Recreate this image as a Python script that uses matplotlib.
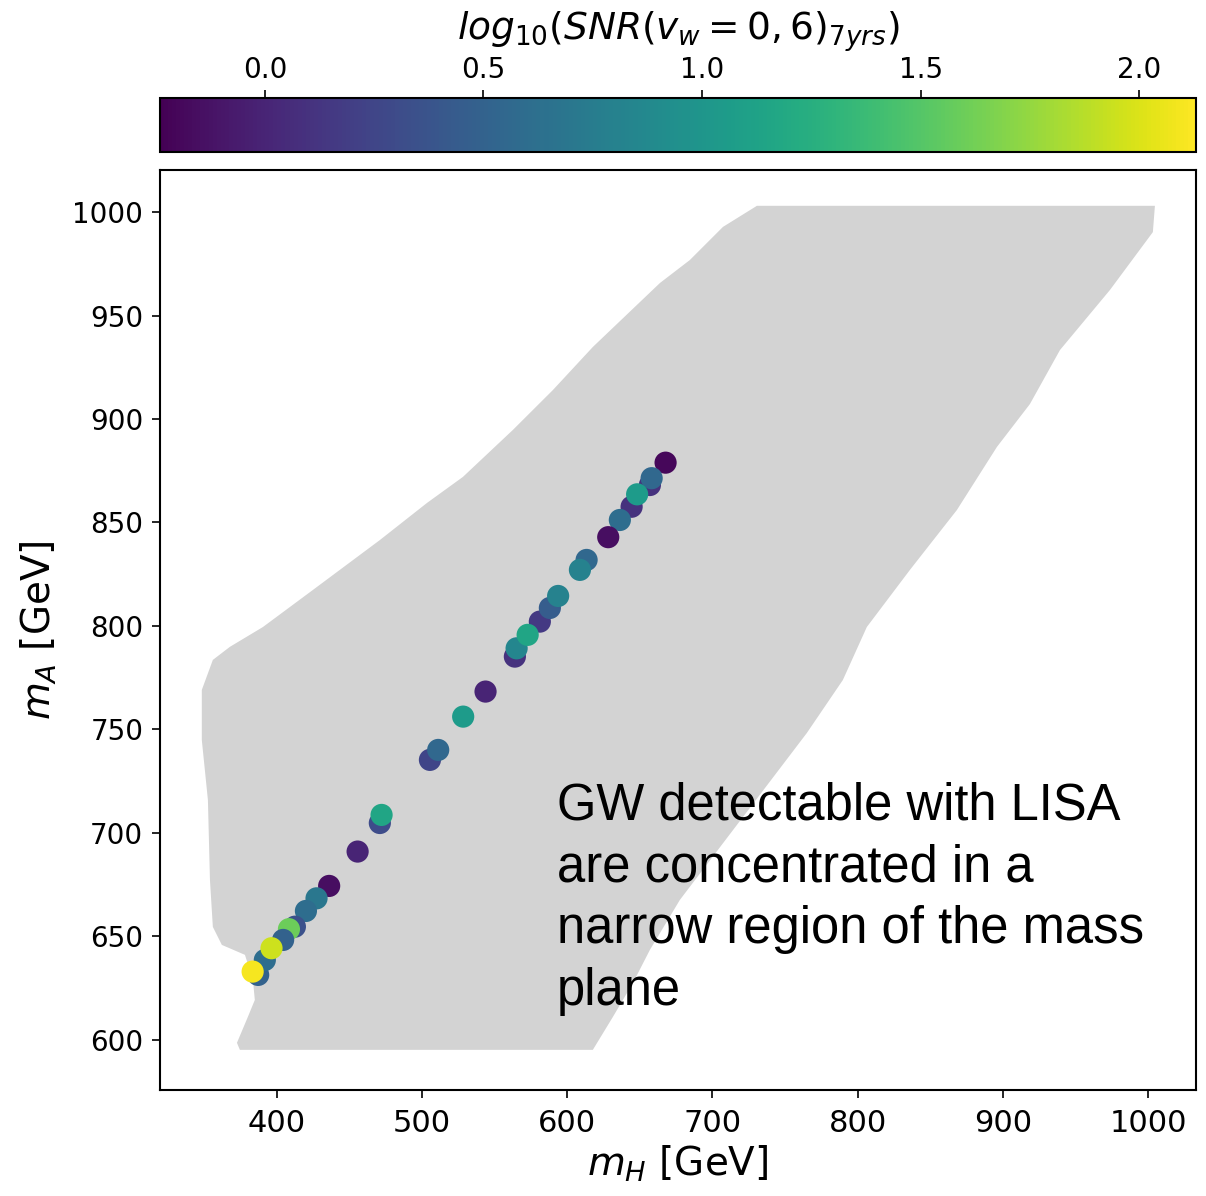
import matplotlib
matplotlib.use("Agg")
import matplotlib.pyplot as plt
import numpy as np

# ---- data ----
# Outline of the scanned (grey) parameter region, (m_H, m_A) in GeV
region_mH = [374.5, 617.6, 631.4, 645.2, 656.9, 677.5, 765.0, 789.8, 806.3, 836.0,
             868.3, 895.9, 918.6, 939.3, 973.7, 1003.3, 1004.7, 730.6, 707.2, 684.4,
             663.8, 617.6, 590.1, 562.5, 528.1, 503.3, 470.9, 424.8, 390.4, 367.6,
             355.9, 348.3, 348.3, 352.5, 353.9, 355.9, 362.1, 378.0, 383.5, 384.8,
             380.0, 372.5]
region_mA = [595.2, 595.2, 611.1, 627.5, 643.5, 667.6, 748.3, 773.9, 799.5, 827.1,
             856.0, 886.5, 907.2, 933.3, 962.3, 990.3, 1003.0, 1003.0, 992.8, 976.8,
             965.7, 934.8, 914.0, 894.7, 872.0, 859.4, 841.5, 817.4, 799.5, 789.9,
             783.6, 769.1, 744.9, 715.9, 677.3, 654.6, 645.9, 641.1, 629.0, 619.3,
             611.1, 598.6]

# Points with detectable GW signal
gw_mH = [656.9, 644.3, 667.7, 658.1, 648.1, 636.2, 628.2, 581.1, 588.0, 613.3,
         608.7, 593.7, 563.9, 565.1, 572.7, 543.7, 528.3, 505.4, 511.1, 470.9,
         472.1, 455.6, 436.0, 427.3, 420.0, 412.4, 408.3, 404.3, 387.1, 391.7,
         396.3, 383.3]
gw_mA = [868.1, 857.6, 878.9, 871.4, 863.6, 851.2, 842.9, 802.1, 808.7, 831.9,
         827.1, 814.5, 785.2, 789.2, 795.7, 768.3, 756.2, 735.3, 740.1, 704.8,
         708.7, 691.0, 674.4, 668.4, 662.3, 654.7, 653.5, 648.3, 631.4, 638.6,
         644.3, 633.0]
gw_logsnr = [0.10, 0.10, -0.20, 0.55, 1.05, 0.60, -0.15, 0.15, 0.45, 0.55,
             0.80, 0.80, 0.10, 0.85, 1.15, 0.00, 1.05, 0.25, 0.55, 0.30,
             1.15, 0.00, -0.15, 0.70, 0.60, 0.35, 1.60, 0.50, 0.50, 0.60,
             1.95, 2.10]

cbar_ticks = [0.0, 0.5, 1.0, 1.5, 2.0]
x_ticks = [400, 500, 600, 700, 800, 900, 1000]
y_ticks = [600, 650, 700, 750, 800, 850, 900, 950, 1000]

# ---- figure ----
W, H = 1206, 1196
fig = plt.figure(figsize=(W / 100, H / 100), dpi=100)

ax = fig.add_axes([160 / W, 1 - 1090 / H, (1196 - 160) / W, (1090 - 170) / H])
cax = fig.add_axes([160 / W, 1 - 152 / H, (1196 - 160) / W, (152 - 98) / H])

ax.fill(region_mH, region_mA, color="#d3d3d3", lw=0, zorder=1)

sc = ax.scatter(gw_mH, gw_mA, c=gw_logsnr, cmap="viridis", vmin=-0.24, vmax=2.13,
                s=255, edgecolors="none", zorder=3)

ax.set_xlim(319.5, 1033)
ax.set_ylim(575.8, 1020.3)
ax.set_xticks(x_ticks)
ax.set_yticks(y_ticks)
ax.tick_params(axis="x", labelsize=22, length=6, width=1.2, pad=8)
ax.tick_params(axis="y", labelsize=20, length=6, width=1.2, pad=6)
for sp in ax.spines.values():
    sp.set_linewidth(1.5)
ax.set_xlabel(r"$m_H$ [GeV]", fontsize=28, labelpad=4)
ax.set_ylabel(r"$m_A$ [GeV]", fontsize=28, labelpad=10)

cb = fig.colorbar(sc, cax=cax, orientation="horizontal")
cb.set_ticks(cbar_ticks)
cax.xaxis.set_ticks_position("top")
cax.xaxis.set_label_position("top")
cax.tick_params(labelsize=20, length=6, width=1.2, pad=4)
cb.outline.set_linewidth(1.5)
cb.set_label(r"$log_{10}(SNR(v_w = 0,6)_{7yrs})$", fontsize=27, labelpad=12)

fig.text(557 / W, 1 - 782 / H,
         "GW detectable with LISA\nare concentrated in a\nnarrow region of the mass\nplane",
         fontsize=36.5, family="Liberation Sans", color="black",
         ha="left", va="top", linespacing=1.33)

fig.savefig("out.png", dpi=100)
